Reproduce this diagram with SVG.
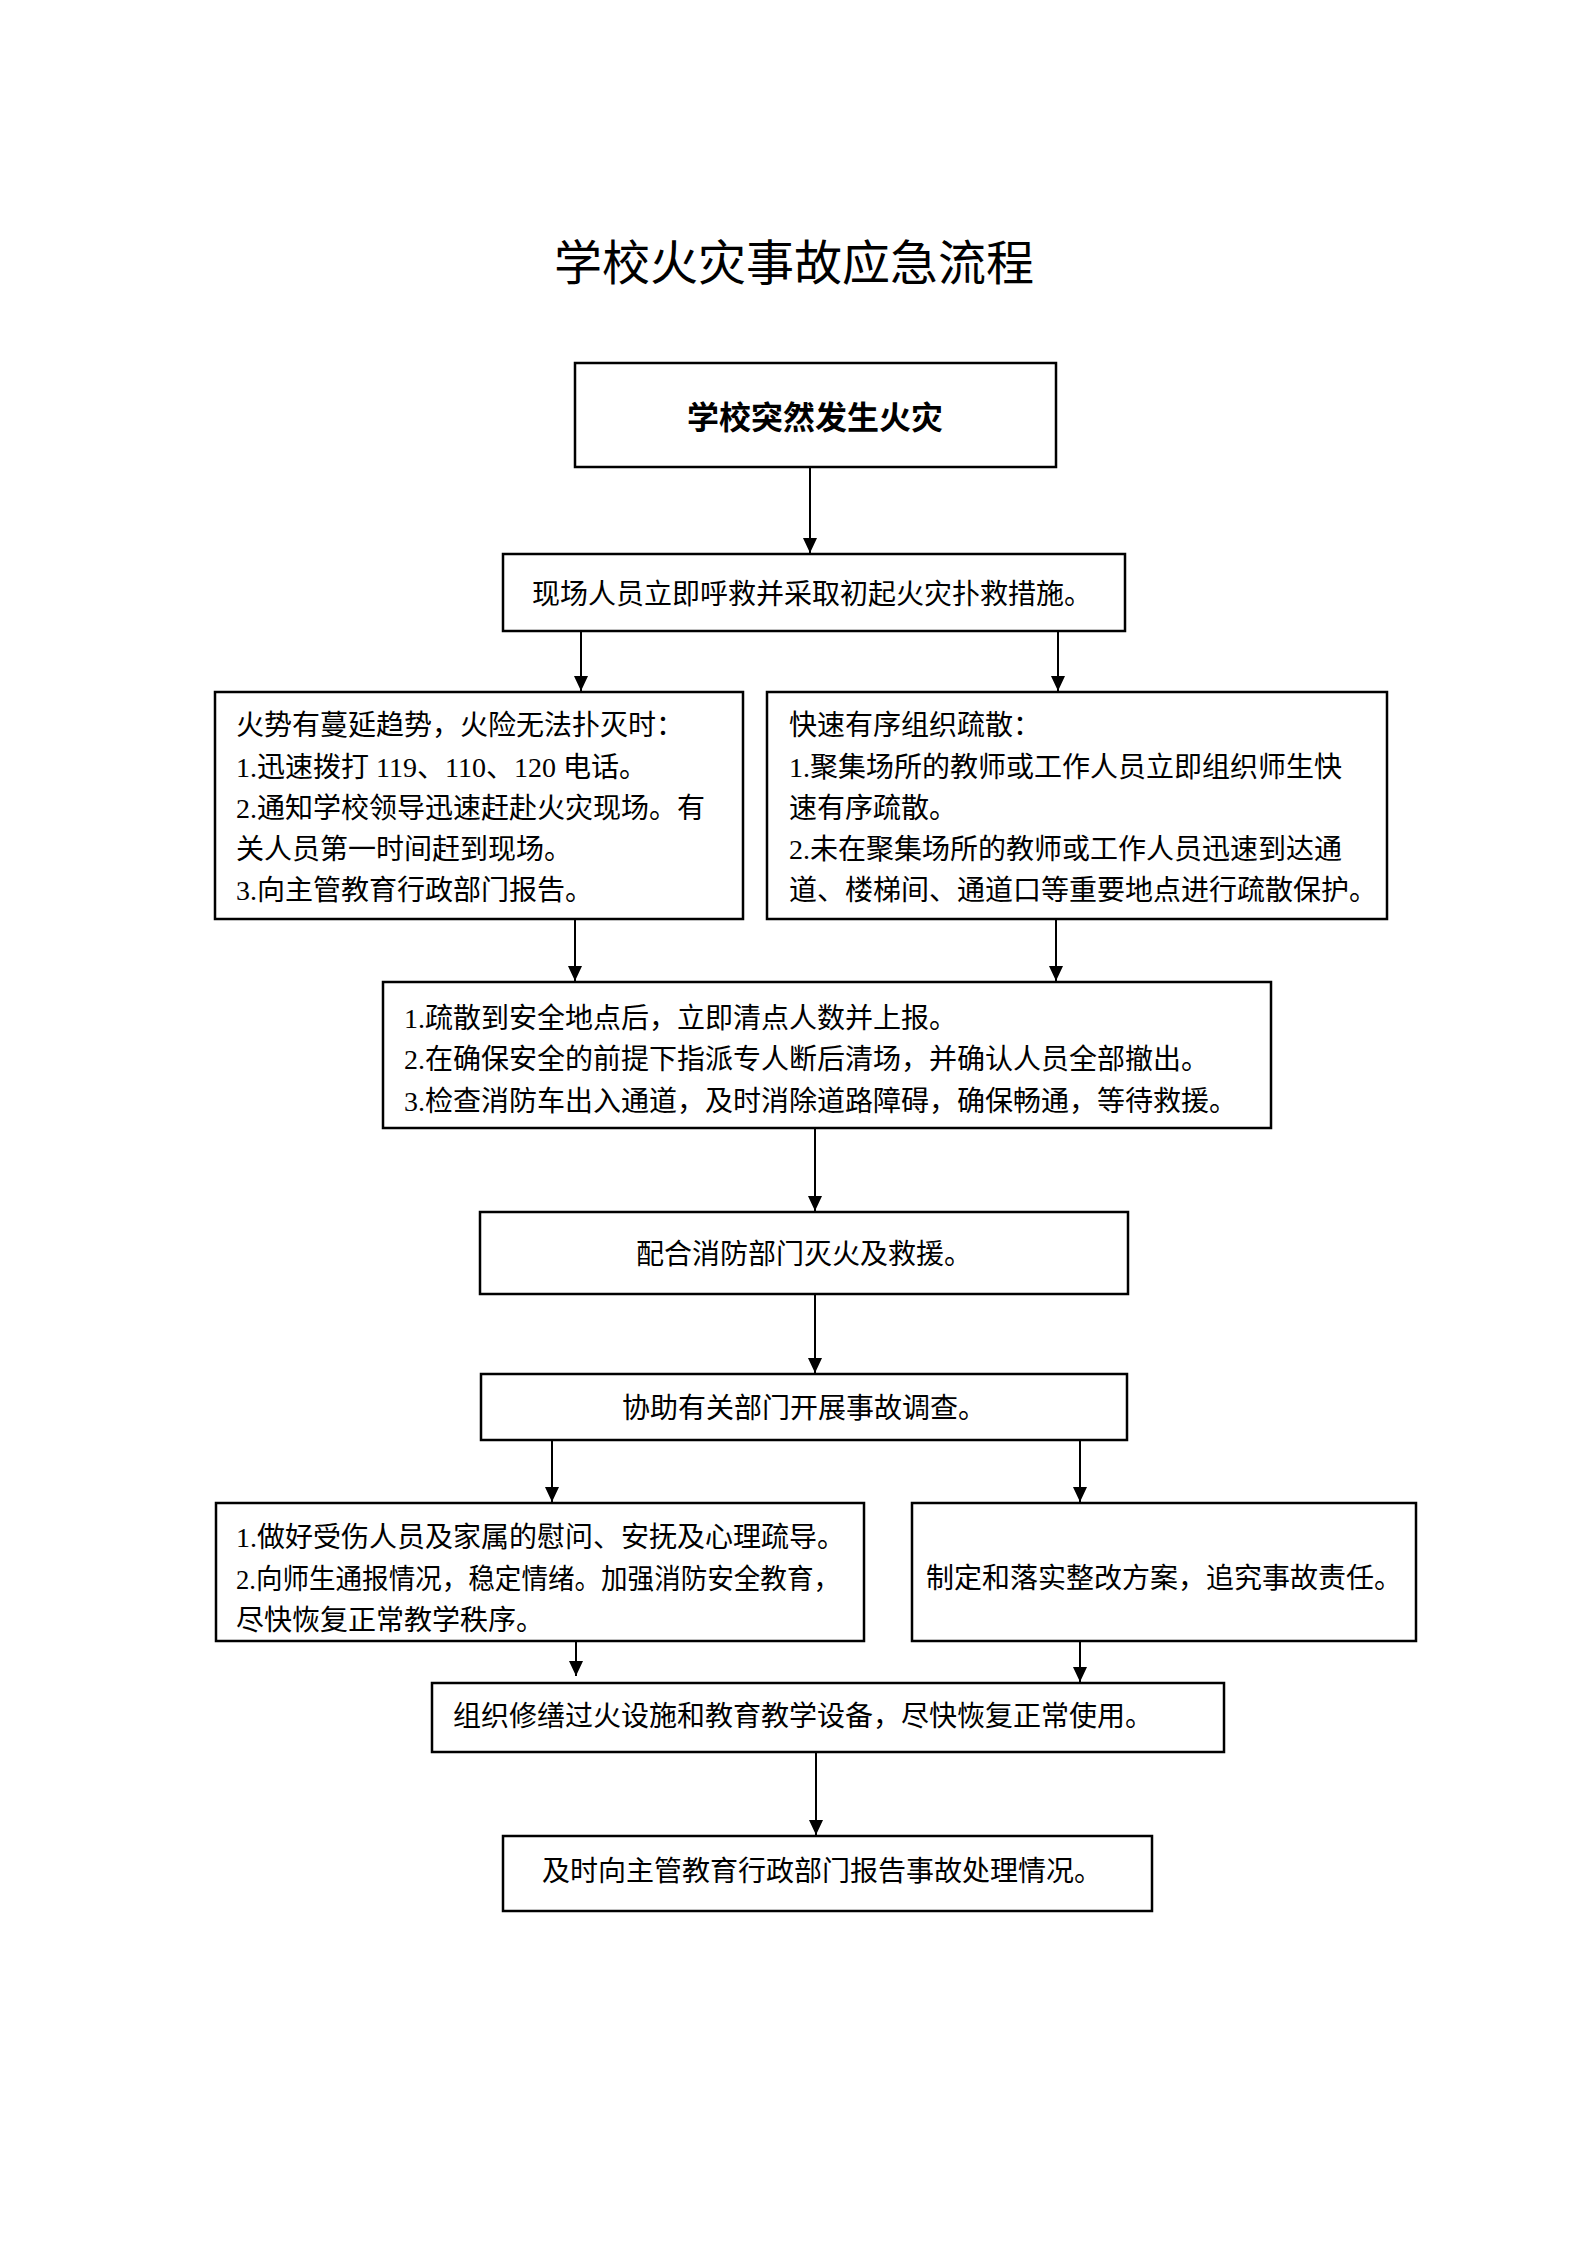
<svg xmlns="http://www.w3.org/2000/svg" width="1587" height="2245" viewBox="0 0 1587 2245">
<style>
  .bg { fill: #ffffff; }
  .box { fill: #ffffff; stroke: #000000; stroke-width: 2.5; }
  .t { font-family: "Liberation Serif", "Noto Sans CJK SC", serif; font-size: 28px; fill: #000000; }
  .c { text-anchor: middle; }
  .title { font-family: "Liberation Serif", "Noto Sans CJK SC", serif; font-size: 48px; fill: #000000; text-anchor: middle; }
  .b { font-size: 32px; font-weight: bold; }
  .edge { stroke: #000000; stroke-width: 2; fill: none; marker-end: url(#arrow); }
</style>
<defs>
  <marker id="arrow" viewBox="0 0 15 14" refX="15" refY="7" markerWidth="15" markerHeight="14" markerUnits="userSpaceOnUse" orient="auto">
    <path d="M0,0 L15,7 L0,14 z" fill="#000000"/>
  </marker>
</defs>
<rect class="bg" x="0" y="0" width="1587" height="2245"/>

<text class="title" x="794" y="280">学校火灾事故应急流程</text>

<g id="connectors">
  <line class="edge" x1="810" y1="467" x2="810" y2="553"/>
  <line class="edge" x1="581" y1="631" x2="581" y2="691"/>
  <line class="edge" x1="1058" y1="631" x2="1058" y2="691"/>
  <line class="edge" x1="575" y1="919" x2="575" y2="981"/>
  <line class="edge" x1="1056" y1="919" x2="1056" y2="981"/>
  <line class="edge" x1="815" y1="1128" x2="815" y2="1211"/>
  <line class="edge" x1="815" y1="1294" x2="815" y2="1373"/>
  <line class="edge" x1="552" y1="1440" x2="552" y2="1502"/>
  <line class="edge" x1="1080" y1="1440" x2="1080" y2="1502"/>
  <line class="edge" x1="576" y1="1641" x2="576" y2="1676"/>
  <line class="edge" x1="1080" y1="1641" x2="1080" y2="1682"/>
  <line class="edge" x1="816" y1="1752" x2="816" y2="1835"/>
</g>

<g id="n1">
  <rect class="box" x="575" y="363" width="481" height="104"/>
  <text class="t c b" x="815" y="429">学校突然发生火灾</text>
</g>

<g id="n2">
  <rect class="box" x="503" y="554" width="622" height="77"/>
  <text class="t c" x="812" y="604">现场人员立即呼救并采取初起火灾扑救措施。</text>
</g>

<g id="n3">
  <rect class="box" x="215" y="692" width="528" height="227"/>
  <text class="t" x="236" y="735">火势有蔓延趋势，火险无法扑灭时：</text>
  <text class="t" x="236" y="777">1.迅速拨打 119、110、120 电话。</text>
  <text class="t" x="236" y="818">2.通知学校领导迅速赶赴火灾现场。有</text>
  <text class="t" x="236" y="859">关人员第一时间赶到现场。</text>
  <text class="t" x="236" y="900">3.向主管教育行政部门报告。</text>
</g>

<g id="n4">
  <rect class="box" x="767" y="692" width="620" height="227"/>
  <text class="t" x="789" y="735">快速有序组织疏散：</text>
  <text class="t" x="789" y="777">1.聚集场所的教师或工作人员立即组织师生快</text>
  <text class="t" x="789" y="818">速有序疏散。</text>
  <text class="t" x="789" y="859">2.未在聚集场所的教师或工作人员迅速到达通</text>
  <text class="t" x="789" y="900">道、楼梯间、通道口等重要地点进行疏散保护。</text>
</g>

<g id="n5">
  <rect class="box" x="383" y="982" width="888" height="146"/>
  <text class="t" x="404" y="1028">1.疏散到安全地点后，立即清点人数并上报。</text>
  <text class="t" x="404" y="1069">2.在确保安全的前提下指派专人断后清场，并确认人员全部撤出。</text>
  <text class="t" x="404" y="1111">3.检查消防车出入通道，及时消除道路障碍，确保畅通，等待救援。</text>
</g>

<g id="n6">
  <rect class="box" x="480" y="1212" width="648" height="82"/>
  <text class="t c" x="804" y="1264">配合消防部门灭火及救援。</text>
</g>

<g id="n7">
  <rect class="box" x="481" y="1374" width="646" height="66"/>
  <text class="t c" x="804" y="1418">协助有关部门开展事故调查。</text>
</g>

<g id="n8">
  <rect class="box" x="216" y="1503" width="648" height="138"/>
  <text class="t" x="236" y="1547">1.做好受伤人员及家属的慰问、安抚及心理疏导。</text>
  <text class="t" x="236" y="1589" textLength="604" lengthAdjust="spacingAndGlyphs">2.向师生通报情况，稳定情绪。加强消防安全教育，</text>
  <text class="t" x="236" y="1630">尽快恢复正常教学秩序。</text>
</g>

<g id="n9">
  <rect class="box" x="912" y="1503" width="504" height="138"/>
  <text class="t c" x="1164" y="1588">制定和落实整改方案，追究事故责任。</text>
</g>

<g id="n10">
  <rect class="box" x="432" y="1683" width="792" height="69"/>
  <text class="t" x="453" y="1726">组织修缮过火设施和教育教学设备，尽快恢复正常使用。</text>
</g>

<g id="n11">
  <rect class="box" x="503" y="1836" width="649" height="75"/>
  <text class="t c" x="822" y="1881">及时向主管教育行政部门报告事故处理情况。</text>
</g>
</svg>
